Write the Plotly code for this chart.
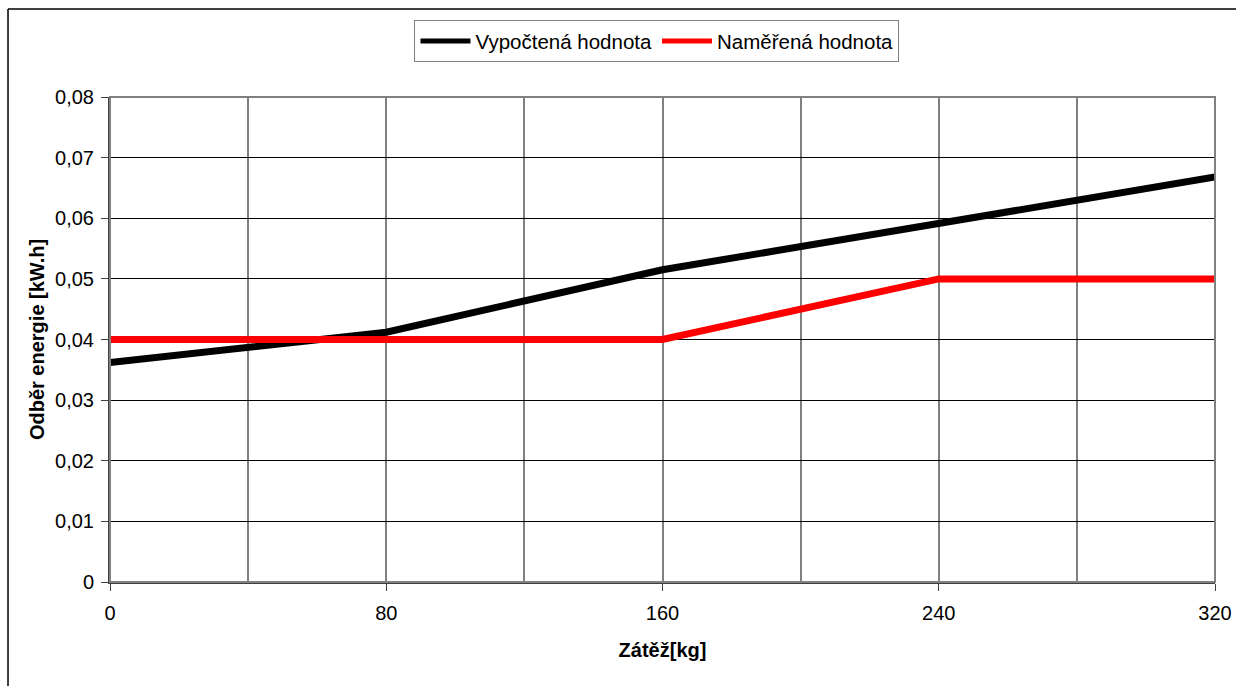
import plotly.graph_objects as go

zatez = [0, 80, 160, 240, 320]
vypoctena = [0.0362, 0.0412, 0.0515, 0.0591, 0.0668]
namerena = [0.04, 0.04, 0.04, 0.05, 0.05]
y_ticks = [0, 0.01, 0.02, 0.03, 0.04, 0.05, 0.06, 0.07, 0.08]
y_labels = ["0", "0,01", "0,02", "0,03", "0,04", "0,05", "0,06", "0,07", "0,08"]
x_ticks = [0, 80, 160, 240, 320]

FONT = "Liberation Sans, Arial, sans-serif"
FS = 20

fig = go.Figure()
fig.add_trace(go.Scatter(x=zatez, y=vypoctena, mode="lines", name="Vypočtená hodnota",
                         line=dict(color="#000000", width=7)))
fig.add_trace(go.Scatter(x=zatez, y=namerena, mode="lines", name="Naměřená hodnota",
                         line=dict(color="#FF0000", width=7)))

fig.update_layout(
    width=1236, height=686,
    margin=dict(l=110, r=21, t=97, b=104, autoexpand=False),
    paper_bgcolor="white", plot_bgcolor="white",
    font=dict(family=FONT, size=FS, color="black"),
    showlegend=True,
    legend=dict(orientation="h", x=0.495, y=1.115, xanchor="center", yanchor="middle",
                bordercolor="#808080", borderwidth=1, font=dict(size=20.5),
                itemwidth=50, tracegroupgap=0, itemsizing="constant"),
    shapes=[dict(type="line", xref="paper", yref="paper", x0=-0.0923, y0=-0.3, x1=-0.0923, y1=1.1814,
                 line=dict(color="black", width=1.5), layer="below"),
            dict(type="line", xref="paper", yref="paper", x0=-0.0923, y0=1.1814, x1=1.2, y1=1.1814,
                 line=dict(color="black", width=1.5), layer="below"),
            dict(type="rect", xref="paper", yref="paper", x0=0, y0=0, x1=1, y1=1,
                 line=dict(color="#808080", width=2), layer="above")],
)
fig.update_xaxes(range=[0, 320], tickvals=x_ticks, ticks="outside", ticklen=7, tickcolor="#404040",
                 automargin=False, ticklabelstandoff=5,
                 showgrid=True, gridcolor="#808080", gridwidth=1.5,
                 minor=dict(dtick=40, tick0=0, showgrid=True, gridcolor="#808080", gridwidth=1.5),
                 showline=True, linecolor="#404040", linewidth=2, zeroline=False,
                 title=dict(text="<b>Zátěž[kg]</b>", font=dict(size=FS), standoff=20),
                 tickfont=dict(size=FS))
fig.update_yaxes(range=[0, 0.08], tickvals=y_ticks, ticktext=y_labels, ticks="outside", ticklen=7,
                 tickcolor="#404040", automargin=False, ticklabelstandoff=3,
                 showgrid=True, gridcolor="#000000", gridwidth=1,
                 showline=True, linecolor="#404040", linewidth=2, zeroline=False,
                 title=dict(text="<b>Odběr energie [kW.h]</b>", font=dict(size=FS), standoff=5),
                 tickfont=dict(size=FS))

fig.write_html("out.html")
